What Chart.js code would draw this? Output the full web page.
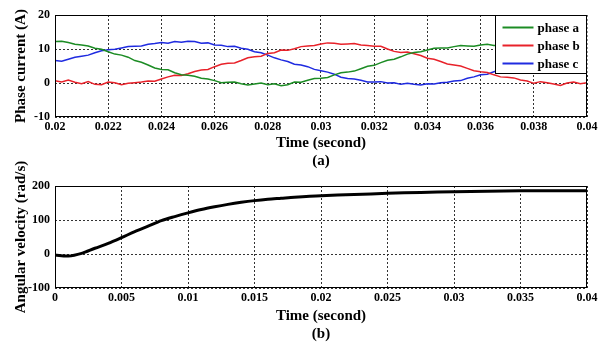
<!DOCTYPE html>
<html>
<head>
<meta charset="utf-8">
<script src="https://cdn.jsdelivr.net/npm/chart.js@4.4.0/dist/chart.umd.min.js"></script>
<style>
  body { margin: 0; background: #fff; }
  #wrap { position: relative; width: 601px; height: 343px; }
  canvas { position: absolute; left: 0; }
</style>
</head>
<body>
<div id="wrap">
  <canvas id="cur" width="601" height="170" style="top:0"></canvas>
  <canvas id="vel" width="601" height="203" style="top:140px"></canvas>
</div>
<script>
// (a) phase currents
const tCur = [
  0.02000, 0.02025, 0.02050, 0.02075, 0.02100, 0.02125, 0.02150, 0.02175,
  0.02200, 0.02225, 0.02250, 0.02275, 0.02300, 0.02325, 0.02350, 0.02375,
  0.02400, 0.02425, 0.02450, 0.02475, 0.02500, 0.02525, 0.02550, 0.02575,
  0.02600, 0.02625, 0.02650, 0.02675, 0.02700, 0.02725, 0.02750, 0.02775,
  0.02800, 0.02825, 0.02850, 0.02875, 0.02900, 0.02925, 0.02950, 0.02975,
  0.03000, 0.03025, 0.03050, 0.03075, 0.03100, 0.03125, 0.03150, 0.03175,
  0.03200, 0.03225, 0.03250, 0.03275, 0.03300, 0.03325, 0.03350, 0.03375,
  0.03400, 0.03425, 0.03450, 0.03475, 0.03500, 0.03525, 0.03550, 0.03575,
  0.03600, 0.03625, 0.03650, 0.03675, 0.03700, 0.03725, 0.03750, 0.03775,
  0.03800, 0.03825, 0.03850, 0.03875, 0.03900, 0.03925, 0.03950, 0.03975,
  0.04000
];
const phaseA = [
  12.2, 12.3, 11.9, 11.4, 11.2, 10.9, 10.2, 9.9,
  9.2, 8.5, 8.2, 7.6, 6.6, 6.1, 5.3, 4.4,
  4.0, 3.9, 3.0, 2.4, 2.3, 2.0, 1.4, 1.2,
  0.7, 0.1, 0.2, 0.3, -0.2, -0.6, -0.3, 0.0,
  -0.5, -0.2, -0.8, -0.5, 0.3, 0.2, 0.8, 1.3,
  1.4, 1.6, 2.4, 3.0, 3.2, 3.5, 4.2, 4.9,
  5.2, 6.0, 6.7, 7.0, 7.7, 8.5, 9.0, 9.2,
  9.7, 10.2, 10.3, 10.3, 10.7, 11.0, 10.9, 10.8,
  11.2, 11.4, 11.0, 11.1, 11.3, 11.6, 11.5, 11.2,
  11.3, 11.3, 11.0, 10.9, 10.5, 10.1, 10.0, 9.9,
  9.5
];
const phaseB = [
  0.7, 0.3, 0.9, 0.2, -0.2, 0.4, -0.4, -0.5,
  0.3, 0.1, -0.5, -0.1, 0.1, 0.3, 0.6, 0.5,
  1.2, 1.8, 2.3, 2.2, 2.7, 3.4, 3.8, 4.0,
  4.8, 5.5, 5.8, 5.9, 6.6, 7.4, 7.7, 7.9,
  8.7, 8.9, 9.7, 9.6, 10.1, 10.7, 10.9, 11.0,
  11.5, 11.8, 11.7, 11.4, 11.5, 11.6, 11.2, 11.0,
  10.8, 10.8, 10.0, 9.3, 9.0, 9.1, 8.6, 8.1,
  7.3, 7.0, 6.3, 5.6, 5.3, 5.0, 4.3, 3.6,
  3.3, 3.1, 2.4, 1.8, 1.7, 1.5, 0.9, 0.6,
  -0.1, 0.4, 0.1, -0.3, -0.7, 0.0, 0.3, -0.2,
  0.1
];
const phaseC = [
  6.6, 6.4, 7.0, 7.6, 7.9, 8.2, 8.9, 9.5,
  9.8, 9.9, 10.3, 10.7, 10.8, 10.9, 11.4, 11.6,
  11.9, 11.7, 12.2, 12.0, 12.3, 12.2, 11.7, 11.8,
  11.2, 11.1, 10.7, 10.8, 10.2, 9.9, 9.2, 8.9,
  8.2, 7.4, 6.8, 6.3, 5.5, 5.3, 4.8, 4.0,
  3.6, 3.2, 2.6, 1.7, 1.3, 1.2, 0.8, 0.3,
  0.3, 0.4, 0.0, 0.1, -0.4, -0.1, -0.4, -0.6,
  -0.2, -0.3, 0.1, 0.2, 0.6, 0.7, 1.4, 1.8,
  2.4, 2.6, 3.3, 3.9, 4.5, 4.9, 5.3, 5.8,
  6.2, 6.6, 7.0, 7.4, 7.8, 8.2, 8.5, 8.8,
  9.0
];
const phaseNames = ['phase a', 'phase b', 'phase c'];
const phaseColors = ['#1c8c24', '#e8222a', '#1f2be0'];
const xTicksCur = ['0.02', '0.022', '0.024', '0.026', '0.028', '0.03', '0.032', '0.034', '0.036', '0.038', '0.04'];
const yTicksCur = [-10, 0, 10, 20];

// (b) angular velocity
const tVel = [
  0, 0.001, 0.002, 0.003, 0.004, 0.005, 0.006, 0.007, 0.008, 0.009,
  0.010, 0.011, 0.012, 0.013, 0.014, 0.015, 0.016, 0.017, 0.018,
  0.020, 0.0225, 0.025, 0.0275, 0.030, 0.0325, 0.035, 0.0375, 0.040
];
const omega = [
  -3, -6, 2, 17, 31, 48, 66, 82, 98, 110,
  121, 131, 139, 146, 152, 157, 161, 164, 167,
  171.5, 175, 178.5, 181, 183, 184.5, 186, 186, 186
];
const xTicksVel = ['0', '0.005', '0.01', '0.015', '0.02', '0.025', '0.03', '0.035', '0.04'];
const yTicksVel = [-100, 0, 100, 200];

const serif = "'Liberation Serif', 'Times New Roman', serif";

// black box around the plot area
const frame = {
  id: 'frame',
  afterDatasetsDraw(chart) {
    const { ctx, chartArea: a } = chart;
    ctx.save();
    ctx.strokeStyle = '#000';
    ctx.lineWidth = 1;
    ctx.strokeRect(Math.round(a.left) + 0.5, Math.round(a.top) + 0.5,
      Math.round(a.right - a.left) - 1, Math.round(a.bottom - a.top) - 1);
    ctx.restore();
  }
};

// legend drawn on top of the lines, top right corner
const boxLegend = {
  id: 'boxLegend',
  afterDatasetsDraw(chart) {
    const { ctx, chartArea: a } = chart;
    const w = 92, h = 58;
    const x = Math.round(a.right) - w + 0.5, y = Math.round(a.top) + 0.5;
    ctx.save();
    ctx.fillStyle = '#fff';
    ctx.fillRect(x, y, w, h);
    ctx.strokeStyle = '#000';
    ctx.lineWidth = 1;
    ctx.strokeRect(x, y, w - 1, h);
    ctx.font = 'bold 13px ' + serif;
    ctx.textBaseline = 'middle';
    chart.data.datasets.forEach((ds, i) => {
      const ly = y + 12 + i * 18;
      ctx.strokeStyle = ds.borderColor;
      ctx.lineWidth = 2;
      ctx.beginPath();
      ctx.moveTo(x + 7, ly);
      ctx.lineTo(x + 38, ly);
      ctx.stroke();
      ctx.fillStyle = '#000';
      ctx.fillText(ds.label, x + 42, ly + 1);
    });
    ctx.restore();
  }
};

function scales(xMin, xMax, xLabels, yTicks, yTitle, xHeight, sub) {
  return {
    x: {
      type: 'linear', min: xMin, max: xMax,
      afterBuildTicks: s => { s.ticks = xLabels.map(v => ({ value: parseFloat(v) })); },
      afterFit: s => { s.height = xHeight; },
      grid: { color: '#333', lineWidth: 1, drawTicks: false },
      border: { display: false, dash: [2, 2] },
      ticks: {
        padding: 3, color: '#000', maxRotation: 0, autoSkip: false,
        font: { family: serif, size: 12, weight: 'bold' },
        callback: (v, i) => xLabels[i]
      },
      title: {
        display: true, text: ['Time (second)', sub], color: '#000',
        font: { family: serif, size: 15, weight: 'bold', lineHeight: 1.2 },
        padding: 0
      }
    },
    y: {
      min: yTicks[0], max: yTicks[yTicks.length - 1],
      afterBuildTicks: s => { s.ticks = yTicks.map(v => ({ value: v })); },
      afterFit: s => { s.width = 55; },
      grid: { color: '#333', lineWidth: 1, drawTicks: false },
      border: { display: false, dash: [2, 2] },
      ticks: {
        padding: 5, color: '#000',
        font: { family: serif, size: 12, weight: 'bold' }
      },
      title: {
        display: true, text: yTitle, color: '#000',
        font: { family: serif, size: 15, weight: 'bold', lineHeight: 1.1 },
        padding: { top: 13, bottom: 0 }
      }
    }
  };
}

new Chart(document.getElementById('cur'), {
  type: 'line',
  data: {
    datasets: [phaseA, phaseB, phaseC].map((vals, i) => ({
      label: phaseNames[i],
      data: vals.map((v, j) => ({ x: tCur[j], y: v })),
      borderColor: phaseColors[i],
      borderWidth: 1.5,
      pointRadius: 0,
      tension: 0
    }))
  },
  options: {
    responsive: false,
    animation: false,
    layout: { padding: { top: 15, right: 14, left: 0, bottom: 0 } },
    plugins: { legend: { display: false }, tooltip: { enabled: false } },
    scales: scales(0.02, 0.04, xTicksCur, yTicksCur, 'Phase current (A)', 53, '(a)')
  },
  plugins: [frame, boxLegend]
});

// second canvas starts higher so the long y title has room
new Chart(document.getElementById('vel'), {
  type: 'line',
  data: {
    datasets: [{
      label: 'omega',
      data: omega.map((v, j) => ({ x: tVel[j], y: v })),
      borderColor: '#000',
      borderWidth: 3,
      pointRadius: 0,
      tension: 0.3
    }]
  },
  options: {
    responsive: false,
    animation: false,
    layout: { padding: { top: 46, right: 14, left: 0, bottom: 0 } },
    plugins: { legend: { display: false }, tooltip: { enabled: false } },
    scales: scales(0, 0.04, xTicksVel, yTicksVel, 'Angular velocity (rad/s)', 55, '(b)')
  },
  plugins: [frame]
});
</script>
</body>
</html>
